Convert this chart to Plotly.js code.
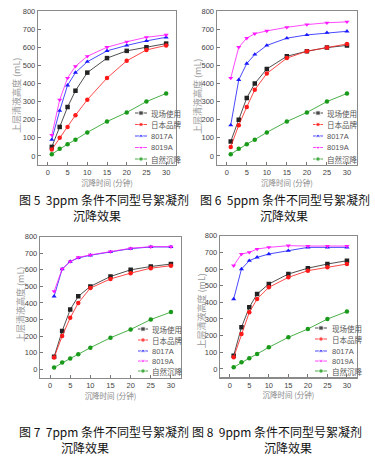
<!DOCTYPE html>
<html><head><meta charset="utf-8">
<script src="https://cdn.plot.ly/plotly-3.0.1.min.js"></script>
<style>html,body{margin:0;padding:0;background:#fff}#chart{width:375px;height:458px}</style>
</head><body><div id="chart"></div>
<script>
// ---- data ----
const times = [1, 3, 5, 7, 10, 15, 20, 25, 30];
const seriesNames = ['现场使用', '日本品牌', '8017A', '8019A', '自然沉降'];
const xTicks = [0, 5, 10, 15, 20, 25, 30];
const yTicks = [0, 100, 200, 300, 400, 500, 600, 700, 800];

// 图5 3ppm
const p3_site   = [50, 160, 270, 360, 460, 540, 580, 600, 620];
const p3_japan  = [35, 100, 160, 225, 310, 430, 525, 585, 610];
const p3_8017A  = [90, 250, 390, 460, 520, 580, 610, 635, 655];
const p3_8019A  = [115, 310, 430, 495, 550, 600, 630, 655, 668];
const p3_nature = [10, 40, 65, 90, 130, 190, 240, 300, 345];
// 图6 5ppm
const p5_site   = [80, 200, 320, 400, 480, 550, 578, 598, 610];
const p5_japan  = [50, 170, 270, 365, 455, 540, 578, 598, 618];
const p5_8017A  = [170, 420, 510, 560, 610, 650, 668, 680, 688];
const p5_8019A  = [430, 600, 650, 675, 690, 710, 725, 735, 740];
const p5_nature = [10, 40, 65, 90, 130, 190, 240, 300, 345];
// 图7 7ppm
const p7_site   = [75, 230, 360, 440, 500, 560, 600, 620, 635];
const p7_japan  = [70, 200, 310, 400, 490, 545, 580, 610, 625];
const p7_8017A  = [440, 605, 650, 672, 688, 708, 728, 738, 738];
const p7_8019A  = [470, 605, 650, 675, 690, 710, 730, 740, 740];
const p7_nature = [10, 40, 65, 90, 130, 190, 240, 300, 345];
// 图8 9ppm
const p9_site   = [80, 250, 370, 450, 510, 570, 605, 630, 650];
const p9_japan  = [70, 210, 340, 420, 490, 550, 590, 610, 630];
const p9_8017A  = [420, 600, 650, 670, 690, 710, 730, 730, 730];
const p9_8019A  = [620, 690, 700, 720, 730, 740, 738, 738, 738];
const p9_nature = [10, 40, 65, 90, 130, 190, 240, 300, 345];

const captions1 = ['图\u00a05\u00a0\u00a03ppm\u00a0条件不同型号絮凝剂', '图\u00a06\u00a0\u00a05ppm\u00a0条件不同型号絮凝剂',
                   '图\u00a07\u00a0\u00a07ppm\u00a0条件不同型号絮凝剂', '图\u00a08\u00a0\u00a09ppm\u00a0条件不同型号絮凝剂'];
const caption2 = '沉降效果';
const xTitle = '沉降时间 (分钟)';
const yTitle = '上层清液高度 (mL)';

// ---- styles ----
const colors = ['#222222', '#ff1a1a', '#1a1aff', '#ff1aff', '#1a9a1a'];
const symbols = ['square', 'circle', 'triangle-up', 'triangle-down', 'circle'];
const Q = '\u3000', E = '\u2002';
const panels = [
  {data: [p3_site, p3_japan, p3_8017A, p3_8019A, p3_nature], x: [38, 176], y: [11, 165],
   leg: {x0: 135, x1: 147, tx: 149, rows: [113, 124.5, 136, 147.5, 159]},
   yt: {x: 16, y: 96},
   cap: {x: 17, y: 207, pad: Q + Q + Q + Q + E}},
  {data: [p5_site, p5_japan, p5_8017A, p5_8019A, p5_nature], x: [216.7, 357], y: [11, 165],
   leg: {x0: 313, x1: 323, tx: 325, rows: [113, 124.5, 136, 147.5, 159]},
   yt: {x: 197, y: 97},
   cap: {x: 198, y: 207, pad: Q + Q + Q + Q + Q}},
  {data: [p7_site, p7_japan, p7_8017A, p7_8019A, p7_nature], x: [40, 181], y: [236.7, 377.5],
   leg: {x0: 138, x1: 148, tx: 150, rows: [329, 340, 351, 361, 371]},
   yt: {x: 20, y: 305},
   cap: {x: 17, y: 439, pad: Q + Q + Q + E}},
  {data: [p9_site, p9_japan, p9_8017A, p9_8019A, p9_nature], x: [220, 356.7], y: [235.7, 377.3],
   leg: {x0: 315, x1: 327, tx: 330, rows: [328, 339, 351, 361, 371]},
   yt: {x: 200.5, y: 311},
   cap: {x: 190, y: 439, pad: Q + Q + Q + Q + Q + Q}}
];
const W = 375, H = 458;
const tickFont = {family: 'Liberation Sans, Arial, sans-serif', size: 7.5, color: '#444'};
const cjk = 'Noto Sans CJK SC, sans-serif';

const traces = [];
const layout = {
  width: W, height: H, margin: {l: 0, r: 0, t: 0, b: 0},
  paper_bgcolor: '#fff', plot_bgcolor: 'rgba(0,0,0,0)', showlegend: false,
  annotations: [], shapes: []
};

panels.forEach((p, i) => {
  const n = i + 1;
  const xa = 'xaxis' + (n === 1 ? '' : n), ya = 'yaxis' + (n === 1 ? '' : n);
  const xr = 'x' + (n === 1 ? '' : n), yr = 'y' + (n === 1 ? '' : n);
  layout[xa] = {
    domain: [p.x[0] / W, p.x[1] / W], anchor: yr, range: [-2.5, 32.5],
    tickvals: xTicks, ticks: 'inside', ticklen: 3, tickcolor: '#777',
    showline: true, linecolor: '#8a8a8a', linewidth: 1.2, mirror: true,
    showgrid: false, zeroline: false, tickfont: tickFont,
    title: {text: xTitle, font: {family: cjk, size: 7.5, color: '#888'}, standoff: 4}
  };
  layout[ya] = {
    domain: [1 - p.y[1] / H, 1 - p.y[0] / H], anchor: xr, range: [-50, 800],
    tickvals: yTicks, ticks: 'inside', ticklen: 3, tickcolor: '#777',
    showline: true, linecolor: '#8a8a8a', linewidth: 1.2, mirror: true,
    showgrid: false, zeroline: false, tickfont: tickFont
  };
  layout.annotations.push({
    xref: 'x5', yref: 'y5', x: p.yt.x, y: p.yt.y, text: yTitle, showarrow: false,
    textangle: -90, xanchor: 'center', yanchor: 'middle',
    font: {family: cjk, size: 9, color: '#999'}
  });
  p.data.forEach((vals, k) => {
    traces.push({
      type: 'scatter', mode: 'lines+markers', x: times, y: vals, name: seriesNames[k],
      xaxis: xr, yaxis: yr,
      line: {color: colors[k], width: 0.8},
      marker: {color: colors[k], symbol: symbols[k], size: 4.5}
    });
  });
  // legend (drawn in pixel-space helper axes)
  seriesNames.forEach((nm, k) => {
    const ry = p.leg.rows[k];
    traces.push({
      type: 'scatter', mode: 'lines+markers', xaxis: 'x5', yaxis: 'y5',
      x: [p.leg.x0, (p.leg.x0 + p.leg.x1) / 2, p.leg.x1], y: [ry, ry, ry],
      line: {color: colors[k], width: 0.8}, hoverinfo: 'skip',
      marker: {color: colors[k], symbol: symbols[k], size: [0, 4.5, 0]}
    });
    layout.annotations.push({
      xref: 'x5', yref: 'y5', x: p.leg.tx, y: ry, text: nm, showarrow: false,
      xanchor: 'left', yanchor: 'middle',
      font: {family: k === 2 || k === 3 ? 'Liberation Sans, Arial, sans-serif' : cjk, size: 7.5, color: '#555'}
    });
  });
  layout.annotations.push({
    xref: 'x5', yref: 'y5', x: p.cap.x, y: p.cap.y,
    text: captions1[i] + '<br>' + p.cap.pad + caption2, showarrow: false,
    xanchor: 'left', yanchor: 'middle', align: 'left',
    font: {family: cjk, size: 12, color: '#111'}
  });
});
layout.xaxis5 = {domain: [0, 1], range: [0, W], visible: false, fixedrange: true, anchor: 'y5'};
layout.yaxis5 = {domain: [0, 1], range: [H, 0], visible: false, fixedrange: true, anchor: 'x5'};

Plotly.newPlot('chart', traces, layout, {staticPlot: true, displayModeBar: false});
</script></body></html>
